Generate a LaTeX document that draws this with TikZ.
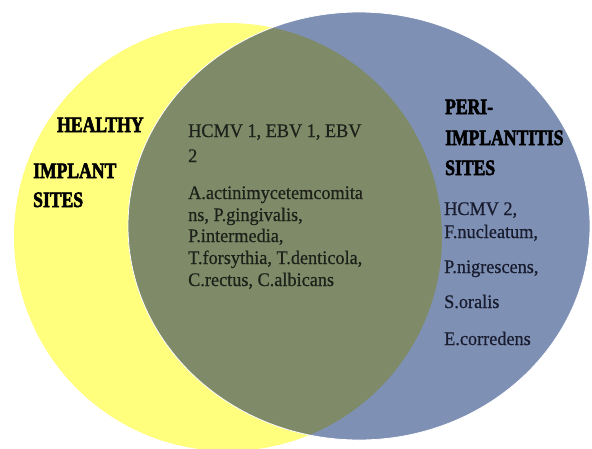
\documentclass[tikz,border=0pt]{standalone}
\usepackage{fontspec}
\setmainfont{Liberation Serif}
\newfontfamily\capsfont{Liberation Serif Bold}[FakeStretch=0.8,FakeBold=2.5]
\newfontfamily\bodyfont{Liberation Serif}[FakeStretch=0.95,FakeBold=0.6]
\definecolor{healthyfill}{RGB}{255,255,125}
\definecolor{perifill}{RGB}{126,144,180}
\definecolor{lensfill}{RGB}{127,139,104}
\definecolor{midink}{RGB}{30,32,26}
\definecolor{periink}{RGB}{24,28,46}
\tikzset{
	caps/.style={anchor=base west, inner sep=0pt, text=black, font=\capsfont\fontsize{22}{22}\selectfont},
	body/.style={anchor=base west, inner sep=0pt, font=\bodyfont\fontsize{19.2}{20}\selectfont}
}

\begin{document}
\begin{tikzpicture}[x=1pt, y=-1pt]
			%%%%% START %%%%%
			\useasboundingbox (0, 0) rectangle (592, 448);
			
			\fill[healthyfill] (228, 237) circle (214);
			\fill[perifill] (359, 226) ellipse [x radius=231, y radius=214];
			\begin{scope}
				\clip (228, 237) circle (214);
				\fill[lensfill] (359, 226) ellipse [x radius=231, y radius=214];
			\end{scope}
			\draw[white, line width=0.8pt] (359, 226) ellipse [x radius=231, y radius=214];
			
			\node[caps] (healthy) at (57, 132) {HEALTHY};
			\node[caps] (implant) at (33, 178) {IMPLANT};
			\node[caps] (sitesl) at (33, 207) {SITES};
			
			\node[body, text=midink] (mid1) at (188, 137) {HCMV 1, EBV 1, EBV};
			\node[body, text=midink] (mid2) at (188, 162) {2};
			\node[body, text=midink] (mid3) at (188, 199) {A.actinimycetemcomita};
			\node[body, text=midink] (mid4) at (188, 221) {ns, P.gingivalis,};
			\node[body, text=midink] (mid5) at (188, 242) {P.intermedia,};
			\node[body, text=midink] (mid6) at (188, 264) {T.forsythia, T.denticola,};
			\node[body, text=midink] (mid7) at (188, 286) {C.rectus, C.albicans};
			
			\node[caps] (peri) at (445, 114) {PERI-};
			\node[caps] (implantitis) at (445, 145) {IMPLANTITIS};
			\node[caps] (sitesr) at (445, 175) {SITES};
			
			\node[body, text=periink] (right1) at (444, 215) {HCMV 2,};
			\node[body, text=periink] (right2) at (444, 238) {F.nucleatum,};
			\node[body, text=periink] (right3) at (444, 273) {P.nigrescens,};
			\node[body, text=periink] (right4) at (444, 308) {S.oralis};
			\node[body, text=periink] (right5) at (444, 345) {E.corredens};
			
			%%%%% END %%%%%
\end{tikzpicture}
\end{document}
